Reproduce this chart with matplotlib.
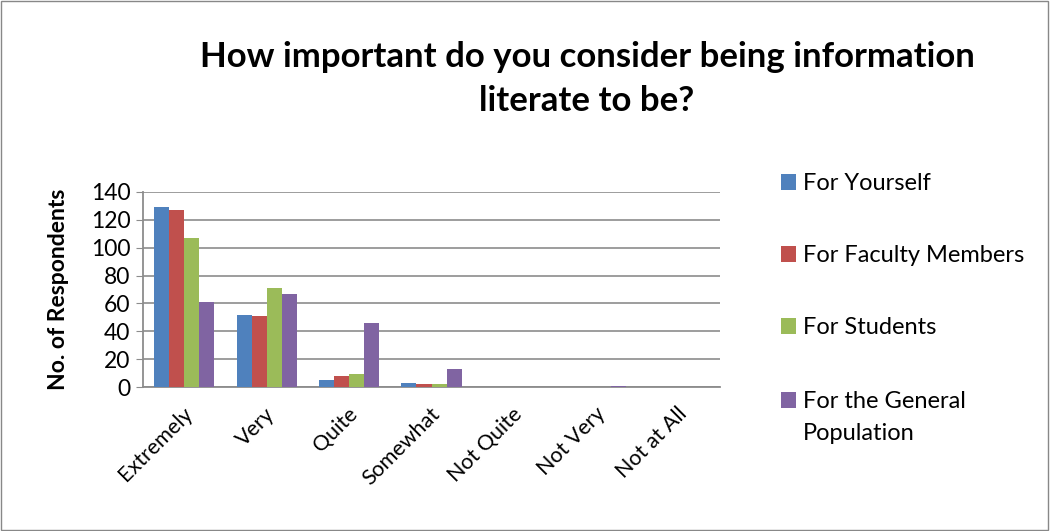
import numpy as np
import matplotlib.pyplot as plt
from matplotlib.patches import Rectangle

plt.rcParams['font.family'] = ['Lato', 'DejaVu Sans']

categories = ['Extremely', 'Very', 'Quite', 'Somewhat', 'Not Quite', 'Not Very', 'Not at All']
series_names = ['For Yourself', 'For Faculty Members', 'For Students',
                'For the General\nPopulation']
yourself = [129, 52, 5, 3, 0, 0, 0]
faculty = [127, 51, 8, 2, 0, 0, 0]
students = [107, 71, 9, 2, 0, 0, 0]
general = [61, 67, 46, 13, 0, 1, 0]
colors = ['#4f81bd', '#c0504d', '#9bbb59', '#8064a2']

W, H = 1050, 531
fig = plt.figure(figsize=(W / 100, H / 100), dpi=100)
fig.patches.append(Rectangle((0.001, 0.001), 0.997, 0.997, transform=fig.transFigure,
                             fill=False, edgecolor='#888888', linewidth=1))

ax = fig.add_axes([143 / W, 1 - 387 / H, 577 / W, 195 / H])

x = np.arange(len(categories))
w = 0.182
for i, vals in enumerate([yourself, faculty, students, general]):
    ax.bar(x + (i - 1.5) * w, vals, w, color=colors[i], zorder=3)

ax.set_xlim(-0.5, len(categories) - 0.5)
ax.set_ylim(0, 140)
ax.set_yticks(range(0, 141, 20))
ax.grid(axis='y', color='#959595', linewidth=1.3, zorder=0)
for s in ['top', 'right']:
    ax.spines[s].set_visible(False)
for s in ['left', 'bottom']:
    ax.spines[s].set_color('#8c8c8c')
    ax.spines[s].set_linewidth(1.3)
ax.tick_params(axis='y', length=5, color='#8c8c8c', labelsize=16.5, pad=4)
ax.tick_params(axis='x', length=0, labelsize=15.5, pad=12)
ax.set_xticks(x - 0.02)
ax.set_xticklabels(categories, rotation=45, ha='right', rotation_mode='anchor')
ax.set_ylabel('No. of Respondents', fontsize=16.5, fontweight='bold', labelpad=16)

fig.text(587 / W, 1 - 79 / H, 'How important do you consider being information\nliterate to be?',
         ha='center', va='center', fontsize=25, fontweight='bold', linespacing=1.45)

# legend: colour squares with labels, first line aligned to the square
legend_y = [182, 254, 326, 400]
for c, name, ly in zip(colors, series_names, legend_y):
    fig.patches.append(Rectangle((781 / W, 1 - (ly + 8) / H), 15 / W, 16 / H,
                                 transform=fig.transFigure, facecolor=c, edgecolor='none'))
    fig.text(803 / W, 1 - (ly - 9) / H, name, ha='left', va='top',
             fontsize=17, linespacing=1.65)

fig.savefig('out.png', dpi=100)
